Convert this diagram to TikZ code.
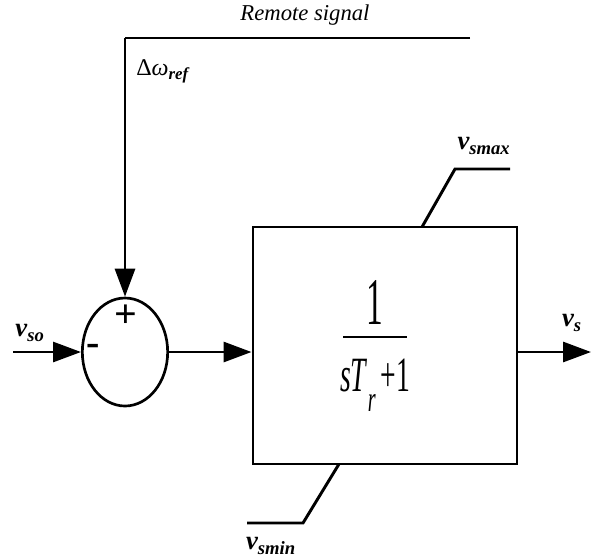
\documentclass[tikz,border=0pt]{standalone}
\usepackage{fontspec}
\setmainfont{Liberation Serif}
\usetikzlibrary{arrows.meta,shapes.geometric}
\begin{document}
\begin{tikzpicture}[x=0.75pt,y=-0.75pt,
  wire/.style={line width=2.2pt},
  sig/.style={wire,-{Triangle[length=21pt,width=15pt]}},
  lbl/.style={inner sep=0pt,font=\fontsize{20}{22}\selectfont\bfseries\itshape},
  sign/.style={inner sep=0pt,font=\fontsize{30}{32}\selectfont\bfseries}]
\useasboundingbox (0,0) rectangle (591,558);
% summing junction and block
\node[draw,ellipse,line width=2pt,minimum width=64pt,minimum height=81pt,inner sep=0pt] (sum) at (125,352) {};
\node[draw,wire,minimum width=198pt,minimum height=177.75pt,inner sep=0pt] (blk) at (385,345.5) {};
% transfer function
\node[inner sep=0pt] (num) at (375,302) {\scalebox{0.5}[1]{\fontsize{50}{54}\selectfont 1}};
\draw[line width=1.6pt] (343,337) -- (407,337);
\node[inner sep=0pt] (den) at (375,385) {\scalebox{0.56}[1]{\fontsize{37}{40}\selectfont\textit{s}\textit{T}\raisebox{-0.4em}{\fontsize{27}{30}\selectfont\textit{r}}\,+1}};
% remote signal path
\coordinate (rtop) at (470,38);
\coordinate (corner) at (125,38);
\draw[wire] (rtop) -- (corner);
\draw[sig] (corner) -- (sum.north);
% input and output
\coordinate (in) at (13,352);
\draw[sig] (in) -- (sum.west);
\draw[sig] (sum.east) -- (sum.east -| blk.west);
\coordinate (out) at (591,352);
\draw[sig] (out -| blk.east) -- (out);
% limits
\coordinate (mx0) at (422,227);
\coordinate (mx1) at (455,169);
\coordinate (mx2) at (510,169);
\draw[wire] (mx0) -- (mx1) -- (mx2);
\coordinate (mn0) at (339,464);
\coordinate (mn1) at (303,523);
\coordinate (mn2) at (247,523);
\draw[wire] (mn0) -- (mn1) -- (mn2);
% labels
\node[inner sep=0pt,font=\fontsize{17}{20}\selectfont\itshape] (rs) at (305,15) {Remote signal};
\node[inner sep=0pt,anchor=west] (dw) at (136,71) {\fontsize{18}{20}\selectfont Δ\textit{ω}\textsubscript{\bfseries\itshape ref}};
\node[lbl] (vso) at (30,333) {v\textsubscript{so}};
\node[lbl] (vs) at (572,323) {v\textsubscript{s}};
\node[lbl] (vmax) at (484,146) {v\textsubscript{smax}};
\node[lbl] (vmin) at (271,546) {v\textsubscript{smin}};
\node[sign] (plus) at (126,316) {+};
\node[sign] (minus) at (93,350) {-};
\end{tikzpicture}
\end{document}
